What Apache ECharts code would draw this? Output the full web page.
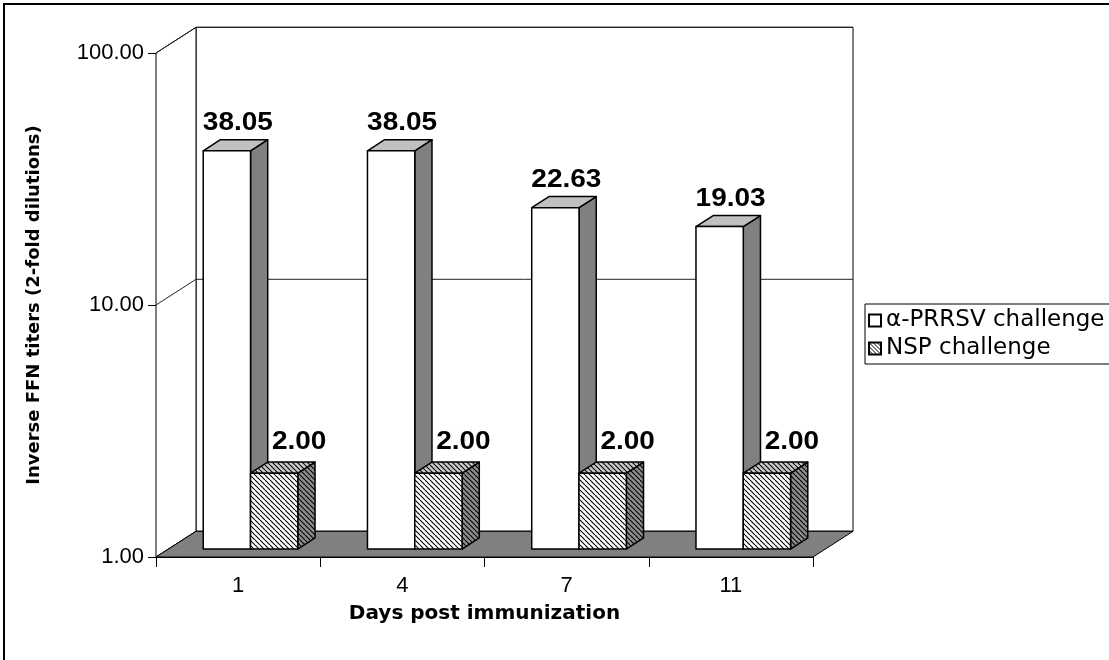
<!DOCTYPE html>
<html><head><meta charset="utf-8">
<script src="https://cdn.jsdelivr.net/npm/echarts@6/dist/echarts.min.js"></script>
<style>html,body{margin:0;padding:0;background:#fff}#c{width:1109px;height:660px}</style>
</head><body><div id="c"></div>
<script>
// ---- data ----
const categories = ['1', '4', '7', '11'];
const seriesNames = ['α-PRRSV challenge', 'NSP challenge'];
const prrsvValues = [38.05, 38.05, 22.63, 19.03];
const nspValues = [2.00, 2.00, 2.00, 2.00];
const yTicks = [1, 10, 100];
const xTitle = 'Days post immunization';
const yTitle = 'Inverse FFN titers (2-fold dilutions)';

// ---- styling / layout constants ----
const FONT = '"DejaVu Sans", sans-serif';
const AFONT = '"Liberation Sans", Arial, sans-serif';
const DEPTH = [40, -25.7];           // pixel offset of the back wall
const BAR_D0 = 0.31, BAR_D1 = 0.74;  // bar depth range (fraction of depth)
const BAR_W = 0.288;                 // bar width as fraction of band

function hatch(bg, size, lw) {
  const c = document.createElement('canvas');
  c.width = size; c.height = size;
  const g = c.getContext('2d');
  g.fillStyle = bg; g.fillRect(0, 0, size, size);
  g.strokeStyle = '#000'; g.lineWidth = lw;
  for (const k of [-size, 0, size]) {
    g.beginPath(); g.moveTo(k, 0); g.lineTo(k + size, size); g.stroke();
  }
  return { image: c, repeat: 'repeat' };
}
const hatchFront = hatch('#ffffff', 5, 1.1);
const hatchTop = hatch('#c8c8c8', 5, 1.1);
const hatchSide = hatch('#8c8c8c', 5, 1.1);
const hatchIcon = hatch('#ffffff', 4, 1);

function frameItem(params, api) {
  const cs = params.coordSys;
  const x0 = cs.x, x1 = cs.x + cs.width;
  const yT = api.coord([0, yTicks[yTicks.length - 1]])[1];
  const yB = api.coord([0, yTicks[0]])[1];
  const dx = DEPTH[0], dy = DEPTH[1];
  const ch = [];
  ch.push({ type: 'rect', shape: { x: x0 + dx, y: yT + dy, width: x1 - x0, height: yB - yT },
    style: { fill: '#fff', stroke: '#000', lineWidth: 1 } });
  ch.push({ type: 'polygon', shape: { points: [[x0, yT], [x0 + dx, yT + dy], [x0 + dx, yB + dy], [x0, yB]] },
    style: { fill: '#fff', stroke: '#000', lineWidth: 1 } });
  yTicks.forEach(t => {
    const y = api.coord([0, t])[1];
    ch.push({ type: 'polyline', shape: { points: [[x0, y], [x0 + dx, y + dy], [x1 + dx, y + dy]] },
      style: { fill: null, stroke: '#222', lineWidth: 1 } });
  });
  ch.push({ type: 'polygon', shape: { points: [[x0, yB], [x1, yB], [x1 + dx, yB + dy], [x0 + dx, yB + dy]] },
    style: { fill: '#808080', stroke: '#000', lineWidth: 1 } });
  return { type: 'group', children: ch };
}

function barRenderer(side, faces, labelDx, labelGap) {
  return function (params, api) {
    const i = api.value(0), v = api.value(1);
    const cx = api.coord([i, yTicks[0]])[0];
    const band = api.size([1, 0])[0];
    const w = band * BAR_W;
    const yBase = api.coord([i, yTicks[0]])[1];
    const yTop = api.coord([i, v])[1];
    const xL = side === 0 ? cx - w : cx;
    const xR = xL + w;
    const f0x = DEPTH[0] * BAR_D0, f0y = DEPTH[1] * BAR_D0;
    const f1x = DEPTH[0] * BAR_D1, f1y = DEPTH[1] * BAR_D1;
    const st = { stroke: '#000', lineWidth: 1.5, lineJoin: 'round' };
    return { type: 'group', children: [
      { type: 'polygon', shape: { points: [[xR + f0x, yTop + f0y], [xR + f1x, yTop + f1y], [xR + f1x, yBase + f1y], [xR + f0x, yBase + f0y]] },
        style: Object.assign({ fill: faces.side }, st) },
      { type: 'polygon', shape: { points: [[xL + f0x, yTop + f0y], [xR + f0x, yTop + f0y], [xR + f1x, yTop + f1y], [xL + f1x, yTop + f1y]] },
        style: Object.assign({ fill: faces.top }, st) },
      { type: 'rect', shape: { x: xL + f0x, y: yTop + f0y, width: w, height: yBase - yTop },
        style: Object.assign({ fill: faces.front }, st) },
      { type: 'text', x: (xL + xR) / 2 + f0x + labelDx, y: yTop + f1y - labelGap, scaleX: 1.12,
        style: { text: v.toFixed(2), font: 'bold 25px ' + AFONT, fill: '#000', align: 'center', verticalAlign: 'bottom' } }
    ] };
  };
}

const chart = echarts.init(document.getElementById('c'), null, { renderer: 'canvas' });
chart.setOption({
  animation: false,
  backgroundColor: '#fff',
  grid: { left: 156, top: 53, right: 1109 - 813, bottom: 660 - 557, containLabel: false },
  graphic: [{ type: 'rect', z: 100, silent: true, shape: { x: 4, y: 4, width: 1200, height: 700 },
    style: { fill: 'none', stroke: '#000', lineWidth: 2 } }],
  legend: {
    orient: 'vertical', left: 865, top: 304,
    data: seriesNames, icon: 'rect',
    itemWidth: 12, itemHeight: 12, itemGap: 5,
    padding: [5, 60, 4, 3],
    borderColor: '#000', borderWidth: 1, backgroundColor: '#fff',
    textStyle: { fontFamily: FONT, fontSize: 23, color: '#000' }
  },
  xAxis: {
    type: 'category', data: categories, boundaryGap: true,
    axisLine: { show: true, lineStyle: { color: '#000', width: 1 } },
    axisTick: { show: true, length: 10, lineStyle: { color: '#000' } },
    axisLabel: { color: '#000', fontFamily: AFONT, fontSize: 22, margin: 18 },
    splitLine: { show: false },
    name: xTitle, nameLocation: 'middle', nameGap: 47,
    nameTextStyle: { fontFamily: FONT, fontWeight: 'bold', fontSize: 20, color: '#000' }
  },
  yAxis: {
    type: 'log', logBase: 10, min: yTicks[0], max: yTicks[yTicks.length - 1],
    axisLine: { show: true, lineStyle: { color: '#000', width: 1 } },
    axisTick: { show: true, length: 8, lineStyle: { color: '#000' } },
    axisLabel: { color: '#000', fontFamily: AFONT, fontSize: 22, margin: 12, formatter: v => Number(v).toFixed(2) },
    splitLine: { show: false },
    name: yTitle, nameLocation: 'middle', nameGap: 113, nameRotate: 90,
    nameTextStyle: { fontFamily: FONT, fontWeight: 'bold', fontSize: 18, color: '#000' }
  },
  series: [
    { type: 'custom', name: '_frame', silent: true, z: 1, renderItem: frameItem, data: [[0, 1]], encode: { x: 0, y: 1 } },
    { type: 'custom', name: seriesNames[0], z: 2,
      itemStyle: { color: '#fff', borderColor: '#000', borderWidth: 1 },
      renderItem: barRenderer(0, { front: '#fff', top: '#c0c0c0', side: '#808080' }, 11, 4),
      data: categories.map((c, i) => [i, prrsvValues[i]]), encode: { x: 0, y: 1 } },
    { type: 'custom', name: seriesNames[1], z: 3,
      itemStyle: { color: hatchIcon, borderColor: '#000', borderWidth: 1 },
      renderItem: barRenderer(1, { front: hatchFront, top: hatchTop, side: hatchSide }, 25, 8),
      data: categories.map((c, i) => [i, nspValues[i]]), encode: { x: 0, y: 1 } }
  ]
});
</script>
</body></html>
